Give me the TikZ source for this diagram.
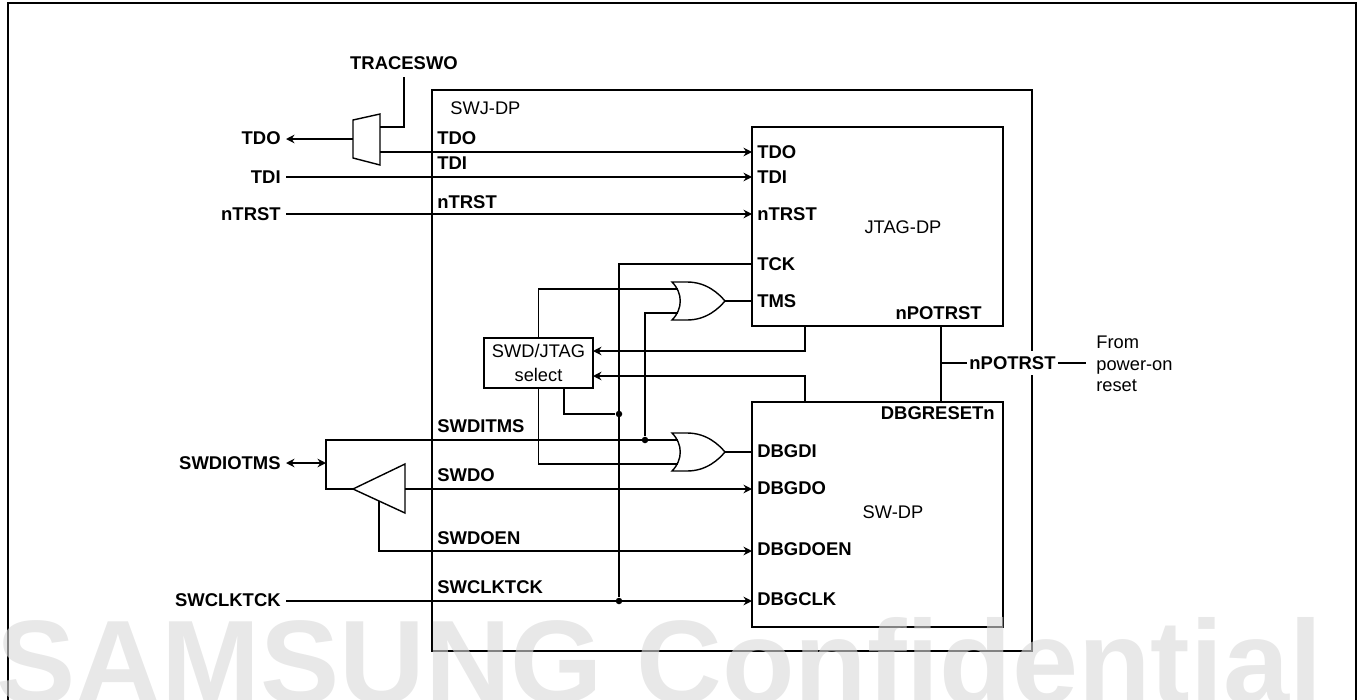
\documentclass[tikz,border=0pt]{standalone}
\usepackage{fontspec}
\setmainfont{Liberation Sans}
\usepackage{tikz}
\usetikzlibrary{arrows.meta, positioning}
\definecolor{markgray}{gray}{0.85}
\newcommand{\sigfont}{\fontsize{10.5}{12.5}\bfseries\selectfont}
\newcommand{\txtfont}{\fontsize{10.4}{12.5}\selectfont}

\begin{document}
\begin{tikzpicture}[
  x=0.02cm, y=-0.02cm,
  wire/.style={line width=0.8pt, >={Stealth[length=1.7mm,width=1.7mm]}},
  blk/.style={draw, line width=0.8pt, inner sep=0pt, outer sep=0pt, anchor=north west},
  sig/.style={font=\sigfont, inner ysep=0pt, inner xsep=0.04cm, text height=0.26cm, text depth=0pt},
  ext/.style={sig, anchor=east, inner xsep=0.1cm},
  txt/.style={font=\txtfont, inner sep=0pt, text height=0.26cm, text depth=0pt},
  junc/.style={circle, fill=black, inner sep=0pt, minimum size=1.3mm},
  orgate/.pic={
    \draw[wire] (0,-19) -- (15,-19) .. controls (35,-19) and (47,-7) .. (53,0)
      .. controls (47,7) and (35,19) .. (15,19) -- (0,19)
      .. controls (11,8) and (11,-8) .. (0,-19) -- cycle;
    \coordinate (-in1) at (6,-12);
    \coordinate (-in2) at (6,12);
    \coordinate (-out) at (53,0);
  },
]
\useasboundingbox (0,0) rectangle (1357,700);
\draw[line width=1.5pt] (8,705) |- (1356,3) -- (1356,705);

\node[blk, minimum width=12cm, minimum height=11.22cm] (swj) at (432,90) {};
\node[blk, minimum width=5.02cm, minimum height=3.98cm] (jtag) at (752,127) {};
\node[blk, minimum width=5.02cm, minimum height=4.5cm] (swdp) at (752,402) {};
\node[blk, font=\txtfont, align=center, minimum width=2.18cm, minimum height=1cm] (sel) at (484,338)
      {SWD/JTAG\\[1.5pt]select};

\node[txt, anchor=west] (swjName) at (450,108) {SWJ-DP};
\node[txt] (jtagName) at (903,227) {JTAG-DP};
\node[txt] (swName) at (893,512) {SW-DP};

\node[sig, inner ysep=0.15cm] (traceExt) at (404,63) {TRACESWO};
\node[ext] (tdoExt) at (286,138) {TDO};
\node[ext] (tdiExt) at (286,177) {TDI};
\node[ext] (trstExt) at (286,214) {nTRST};
\node[ext] (swdioExt) at (286,463) {SWDIOTMS};
\node[ext] (swclkExt) at (286,600) {SWCLKTCK};

\node[sig, anchor=west] (tdoIn) at (435,138) {TDO};
\node[sig, anchor=west] (tdiIn) at (435,163) {TDI};
\node[sig, anchor=west] (trstIn) at (435,202) {nTRST};
\node[sig, anchor=west] (itmsIn) at (435,426) {SWDITMS};
\node[sig, anchor=west] (swdoIn) at (435,475) {SWDO};
\node[sig, anchor=west] (swoenIn) at (435,538) {SWDOEN};
\node[sig, anchor=west] (swclkIn) at (435,587) {SWCLKTCK};

\node[sig, anchor=west] (tdoPin) at (755,152) {TDO};
\node[sig, anchor=west] (tdiPin) at (755,177) {TDI};
\node[sig, anchor=west] (trstPin) at (755,214) {nTRST};
\node[sig, anchor=west] (tckPin) at (755,264) {TCK};
\node[sig, anchor=west] (tmsPin) at (755,301) {TMS};
\node[sig, anchor=east] (potPin) at (984,313) {nPOTRST};
\node[sig, anchor=east] (rstPin) at (997,413) {DBGRESETn};
\node[sig, anchor=west] (diPin) at (755,451) {DBGDI};
\node[sig, anchor=west] (doPin) at (755,488) {DBGDO};
\node[sig, anchor=west] (oenPin) at (755,549) {DBGDOEN};
\node[sig, anchor=west] (clkPin) at (755,599) {DBGCLK};

\node[sig, fill=white, inner ysep=0.11cm] (potMid) at (1012.5,363) {nPOTRST};
\node[txt, anchor=west] (fromTxt) at (1096,342) {From};
\node[txt, anchor=west] (powerTxt) at (1096,364) {power-on};
\node[txt, anchor=west] (resetTxt) at (1096,385) {reset};

\coordinate (muxA) at (353,120);
\coordinate (muxB) at (380,114);
\coordinate (muxC) at (380,165);
\coordinate (muxD) at (353,158);
\coordinate (muxTop) at (380,127);
\coordinate (muxLow) at (380,152);
\coordinate (muxLeft) at (353,139);
\draw[wire] (muxA) -- (muxB) -- (muxC) -- (muxD) -- cycle;
\draw[wire] (traceExt.south) |- (muxTop);
\draw[wire, ->] (muxLeft) -- (tdoExt.east |- muxLeft);
\draw[wire, ->] (muxLow) -- (jtag.west |- muxLow);
\draw[wire, ->] (tdiExt.east) -- (jtag.west |- tdiExt);
\draw[wire, ->] (trstExt.east) -- (jtag.west |- trstExt);

\pic (orA) at (672,301) {orgate};
\pic (orB) at (672,452) {orgate};
\draw[wire] (orA-out) -- (jtag.west |- orA-out);
\draw[wire] (orB-out) -- (swdp.west |- orB-out);
\draw[wire] (sel.north) |- (orA-in1);
\draw[wire] (sel.south) |- (orB-in2);

\coordinate (bufTip) at (353,489);
\coordinate (bufTop) at (405,464);
\coordinate (bufBot) at (405,513);
\coordinate (bufIn) at (405,489);
\coordinate (bufEn) at (379,501);
\draw[wire] (bufTip) -- (bufTop) -- (bufBot) -- cycle;
\coordinate (doEnd) at (752,489);
\coordinate (oenEnd) at (752,551);
\coordinate (clkEnd) at (752,601);
\draw[wire, ->] (bufIn) -- (doEnd);
\draw[wire, ->] (bufEn) |- (oenEnd);

\coordinate (busTop) at (326,463);
\coordinate (busLow) at (326,489);
\draw[wire] (orB-in1) -| (busLow) -- (bufTip);
\draw[wire, <->] (swdioExt.east) -- (busTop);

\node[junc] (clkDot) at (619,601) {};
\node[junc] (tckDot) at (619,414) {};
\node[junc] (tmsDot) at (645,440) {};
\coordinate (tckEnd) at (752,264);
\coordinate (selClk) at (564,388);
\draw[wire, ->] (swclkExt.east |- clkEnd) -- (clkEnd);
\draw[wire] (tckEnd) -| (clkDot);
\draw[wire] (selClk) |- (tckDot);
\draw[wire] (orA-in2) -| (tmsDot);

\coordinate (jtagSel) at (805,326);
\coordinate (swSel) at (805,402);
\coordinate (selInA) at (593,351);
\coordinate (selInB) at (593,376);
\draw[wire, ->] (jtagSel) |- (selInA);
\draw[wire, ->] (swSel) |- (selInB);

\coordinate (potTop) at (941,326);
\coordinate (potLow) at (941,402);
\coordinate (potJoin) at (941,363);
\coordinate (potEnd) at (1086,363);
\draw[wire] (potTop) -- (potLow);
\draw[wire] (potJoin) -- (potMid.west);
\draw[wire] (potMid.east) -- (potEnd);

\node[anchor=base west, inner sep=0pt, font=\fontsize{67.6}{70}\bfseries\selectfont,
      text=markgray, text opacity=0.6] (markTxt) at (-4,703) {SAMSUNG Confidential};
\end{tikzpicture}
\end{document}
